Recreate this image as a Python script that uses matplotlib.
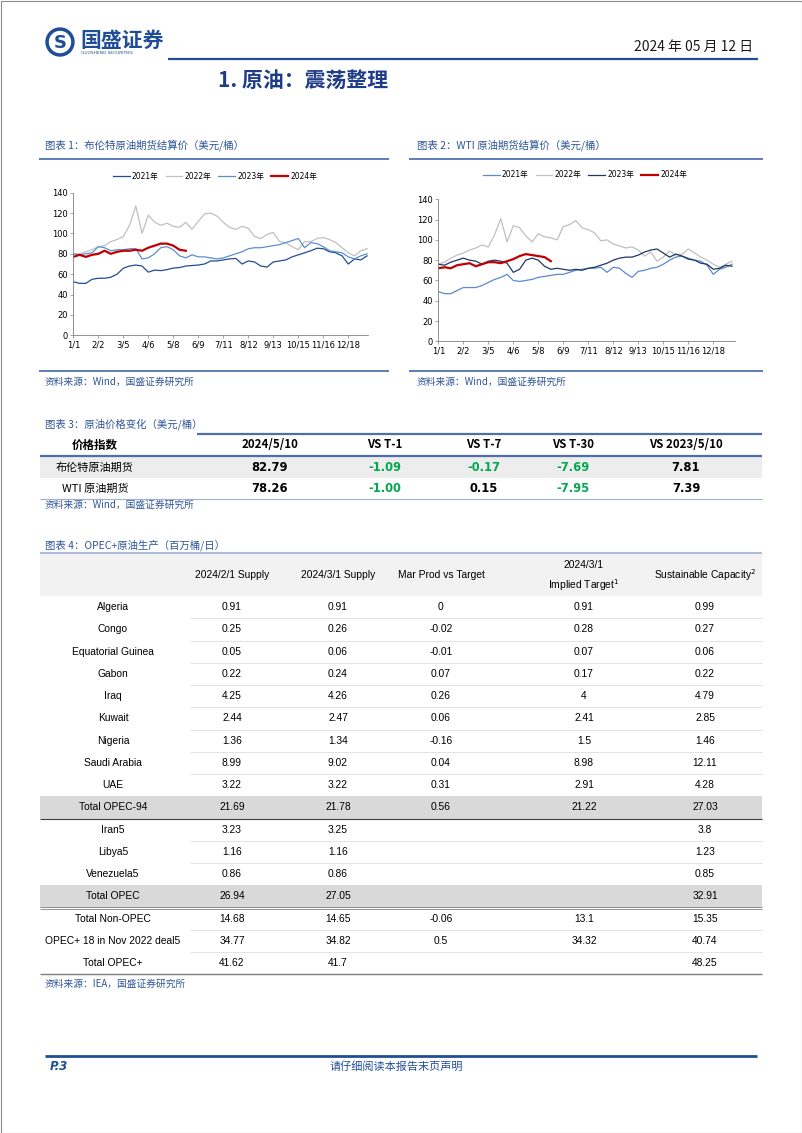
import numpy as np
import matplotlib.pyplot as plt
from matplotlib.patches import Rectangle, Circle

plt.rcParams['font.family'] = ['DejaVu Sans', 'Noto Sans CJK SC']
CJK = ['Noto Sans CJK SC', 'DejaVu Sans']
NARROW = ['Liberation Sans Narrow', 'Liberation Sans', 'Noto Sans CJK SC']

NAVY = '#1F4E96'
CAPBLUE = '#2F5597'
GREEN = '#00A84F'

# ---- chart data (weekly-ish reads, one value every 8 calendar slots) ----
date_labels = ['1/1', '2/2', '3/5', '4/6', '5/8', '6/9', '7/11', '8/12',
               '9/13', '10/15', '11/16', '12/18']
years = ['2021年', '2022年', '2023年', '2024年']

brent_2021 = [52.5, 51, 51, 55, 56, 56, 57, 60, 65.8, 68, 69, 68, 62, 64, 63.5, 64.5,
              66, 66.5, 68, 68.5, 69, 70, 73, 73, 74, 75, 75.5, 70, 73, 72, 68, 67,
              72, 73, 74, 77, 79, 81, 83, 85.5, 85, 82, 81, 78, 70, 75, 74, 78]
brent_2022 = [80, 80, 82, 84, 87, 88, 92, 94, 97, 108, 127, 100, 118, 111, 108, 110,
              107, 106, 111, 104, 112, 119, 120, 117, 111, 106, 104, 107, 105, 97, 95, 99,
              101, 92, 91, 87, 84, 92, 92, 95, 96, 94, 91, 86, 81, 78, 83, 85]
brent_2023 = [80, 79, 80, 81, 87, 86, 83, 84, 84, 85, 85, 75, 76, 80, 86, 87,
              84, 78, 76, 79, 77, 77, 76, 75, 76, 78, 80, 82, 85, 86, 86, 87,
              88, 89, 91, 93, 95, 86, 91, 90, 87, 83, 82, 81, 77, 75, 78, 80]
brent_2024 = [77, 79, 77, 79, 80, 83, 80, 82, 83, 83, 84, 83, 86, 88, 90, 90, 88, 84, 83]

wti_2021 = [49, 47, 47, 50, 53, 53, 53, 55, 58, 61, 63, 66, 60, 59, 60, 61,
            63, 64, 65, 66, 66, 68, 70, 71, 72, 72, 73, 68, 73, 72, 67, 63,
            69, 70, 72, 73, 76, 80, 83, 84, 82, 80, 79, 75, 66, 71, 73, 76]
wti_2022 = [76, 78, 82, 85, 87, 90, 92, 95, 93, 105, 121, 98, 114, 112, 104, 98,
            106, 103, 102, 100, 113, 115, 119, 112, 110, 107, 99, 100, 96, 94, 92, 93,
            90, 84, 88, 79, 83, 89, 85, 86, 91, 87, 83, 80, 76, 73, 76, 79]
wti_2023 = [76, 75, 78, 80, 82, 80, 79, 76, 79, 80, 79, 77, 68, 71, 80, 82,
            80, 74, 71, 72, 71, 70, 71, 70, 72, 73, 75, 77, 80, 82, 83, 83,
            85, 88, 90, 91, 87, 83, 86, 84, 81, 80, 77, 76, 71, 72, 75, 74]
wti_2024 = [72, 73, 72, 75, 76, 77, 74, 76, 78, 78, 77, 79, 81, 84, 86, 85, 84, 83, 79]

# ---- table 3 ----
t3_header = ['价格指数', '2024/5/10', 'VS T-1', 'VS T-7', 'VS T-30', 'VS 2023/5/10']
t3_names = ['布伦特原油期货', 'WTI 原油期货']
t3_values = [[82.79, -1.09, -0.17, -7.69, 7.81],
             [78.26, -1.00, 0.15, -7.95, 7.39]]

# ---- table 4 ----
t4_header = ['2024/2/1 Supply', '2024/3/1 Supply', 'Mar Prod vs Target',
             '2024/3/1\nImplied Target$^1$', 'Sustainable Capacity$^2$']
t4_rows = ['Algeria', 'Congo', 'Equatorial Guinea', 'Gabon', 'Iraq', 'Kuwait',
           'Nigeria', 'Saudi Arabia', 'UAE', 'Total OPEC-94', 'Iran5', 'Libya5',
           'Venezuela5', 'Total OPEC', 'Total Non-OPEC', 'OPEC+ 18 in Nov 2022 deal5',
           'Total OPEC+']
supply_feb = [0.91, 0.25, 0.05, 0.22, 4.25, 2.44, 1.36, 8.99, 3.22, 21.69, 3.23, 1.16,
              0.86, 26.94, 14.68, 34.77, 41.62]
supply_mar = [0.91, 0.26, 0.06, 0.24, 4.26, 2.47, 1.34, 9.02, 3.22, 21.78, 3.25, 1.16,
              0.86, 27.05, 14.65, 34.82, 41.7]
prod_vs_target = [0, -0.02, -0.01, 0.07, 0.26, 0.06, -0.16, 0.04, 0.31, 0.56, None, None,
                  None, None, -0.06, 0.5, None]
implied_target = [0.91, 0.28, 0.07, 0.17, 4, 2.41, 1.5, 8.98, 2.91, 21.22, None, None,
                  None, None, 13.1, 34.32, None]
capacity = [0.99, 0.27, 0.06, 0.22, 4.79, 2.85, 1.46, 12.11, 4.28, 27.03, 3.8, 1.23,
            0.85, 32.91, 15.35, 40.74, 48.25]
shaded_rows = ['Total OPEC-94', 'Total OPEC']

STEP = 8
TICK_EVERY = 32

fig = plt.figure(figsize=(8.02, 11.33), dpi=100)
page = fig.add_axes([0, 0, 1, 1])
page.set_xlim(0, 802)
page.set_ylim(1133, 0)
page.axis('off')


def put(x, y, s, size, ha='center', va='center', color='black', weight='normal',
        family=None, style='normal'):
    page.text(x, y, s, fontsize=size, ha=ha, va=va, color=color, fontweight=weight,
              family=family if family else CJK, style=style)


def hline(x0, x1, y, color, lw):
    page.plot([x0, x1], [y, y], color=color, lw=lw, solid_capstyle='butt')


# page frame
page.add_patch(Rectangle((0.5, 0.5), 801, 1132, fill=False, ec='#8C8C8C', lw=0.8))

# header
page.add_patch(Circle((60, 42), 14, color=NAVY))
page.add_patch(Circle((60, 42), 10.5, color='white'))
put(60, 42.5, 'S', 13, color=NAVY, weight='bold', family=['DejaVu Sans'])
put(80, 40, '国盛证券', 15, ha='left', color=NAVY, weight='bold')
put(81, 52.5, 'GUOSHENG SECURITIES', 3.2, ha='left', color=NAVY, family=['DejaVu Sans'])
put(753, 47, '2024 年 05 月 12 日', 10, ha='right', color='#1A1A1A')
hline(168, 758, 59, NAVY, 1.6)
put(218, 81, '1. 原油：震荡整理', 15, ha='left', color='#1F3C88', weight='bold')

# chart captions
put(45, 145, '图表 1：布伦特原油期货结算价（美元/桶）', 7.5, ha='left', color=CAPBLUE)
put(417, 145, '图表 2：WTI 原油期货结算价（美元/桶）', 7.5, ha='left', color=CAPBLUE)
hline(39, 389, 158.5, '#5B7DB8', 1.4)
hline(409, 763, 158.5, '#5B7DB8', 1.4)
hline(39, 389, 371, '#5B7DB8', 1.4)
hline(409, 763, 371, '#5B7DB8', 1.4)
put(45, 382, '资料来源：Wind，国盛证券研究所', 7, ha='left', color=CAPBLUE)
put(417, 382, '资料来源：Wind，国盛证券研究所', 7, ha='left', color=CAPBLUE)


def draw_chart(rect, series, colors, widths, legend_xy):
    x0, y0, x1, y1 = rect
    ax = fig.add_axes([x0 / 802, 1 - y1 / 1133, (x1 - x0) / 802, (y1 - y0) / 1133])
    ax.set_facecolor('none')
    for vals, c, lw, lab in zip(series, colors, widths, years):
        ax.plot(np.arange(len(vals)) * STEP, vals, color=c, lw=lw, label=lab)
    ax.set_xlim(0, (x1 - x0) / 25 * TICK_EVERY)
    ax.set_ylim(0, 140)
    ax.set_yticks(range(0, 141, 20))
    ax.set_xticks(np.arange(len(date_labels)) * TICK_EVERY)
    ax.set_xticklabels(date_labels)
    for s in ['top', 'right']:
        ax.spines[s].set_visible(False)
    for s in ['left', 'bottom']:
        ax.spines[s].set_color('#808080')
        ax.spines[s].set_linewidth(0.6)
    ax.tick_params(labelsize=6, length=2.2, width=0.5, color='#808080', pad=1.5)
    ax.legend(loc='center', bbox_to_anchor=legend_xy, bbox_transform=page.transData,
              ncol=4, frameon=False, fontsize=5.5, handlelength=2.2, handletextpad=0.3,
              columnspacing=0.9, borderpad=0)
    return ax


draw_chart((73.3, 192.7, 368, 335.3), [brent_2021, brent_2022, brent_2023, brent_2024],
           ['#1F4E96', '#C0C0C0', '#5B8ED0', '#C00000'], [0.9, 0.9, 0.9, 1.6], (215, 176))
draw_chart((438.3, 199.3, 735, 341.3), [wti_2021, wti_2022, wti_2023, wti_2024],
           ['#5B8BC9', '#C0C0C0', '#1F3864', '#C00000'], [0.9, 0.9, 0.9, 1.6], (585, 175))

# ---- table 3 ----
put(45, 424, '图表 3：原油价格变化（美元/桶）', 7.5, ha='left', color=CAPBLUE)
t3_x = [95, 270, 385, 484, 573, 686]
page.add_patch(Rectangle((40, 457), 722, 21, color='#EDEDED', lw=0))
hline(197, 762, 433.5, '#4F6FA8', 1.6)
hline(40, 762, 456, '#4F6FA8', 1.6)
hline(40, 762, 498.5, '#9DB0D3', 0.8)
for x, h in zip(t3_x, t3_header):
    put(x, 445, h, 8.3, weight='bold')
for r, (name, vals) in enumerate(zip(t3_names, t3_values)):
    y = 467.5 + r * 21
    put(t3_x[0], y, name, 8)
    for i, v in enumerate(vals):
        col = GREEN if (i > 0 and v < 0) else 'black'
        put(t3_x[i + 1], y, f'{v:.2f}', 8.3, weight='bold', color=col, family=['DejaVu Sans'])
put(45, 505, '资料来源：Wind，国盛证券研究所', 7, ha='left', color=CAPBLUE)

# ---- table 4 ----
put(45, 545, '图表 4：OPEC+原油生产（百万桶/日）', 7.5, ha='left', color=CAPBLUE)
row_h = 22.25
top = 596
page.add_patch(Rectangle((40, 553), 722, top - 553, color='#F2F2F2', lw=0))
hline(40, 762, 553, '#9DB0D3', 1.2)
t4_x = [113, 232, 338, 441, 584, 705]
for x, h in zip(t4_x[1:], t4_header):
    if '\n' in h:
        a, b = h.split('\n')
        put(x, 565, a, 7.4, family=NARROW)
        put(x, 585, b, 7.4, family=NARROW)
    else:
        put(x, 575, h, 7.4, family=NARROW)

cols = [supply_feb, supply_mar, prod_vs_target, implied_target, capacity]
for r, name in enumerate(t4_rows):
    yc = top + (r + 0.5) * row_h
    if name in shaded_rows:
        page.add_patch(Rectangle((40, top + r * row_h), 722, row_h, color='#D9D9D9', lw=0))
    elif r > 0 and t4_rows[r - 1] not in shaded_rows:
        hline(190, 762, top + r * row_h, '#E3E3E3', 0.7)
    put(t4_x[0], yc, name, 7.4, family=NARROW)
    for c, vals in enumerate(cols):
        v = vals[r]
        if v is not None:
            put(t4_x[c + 1], yc, f'{v:g}', 7.4, family=NARROW)
ix = t4_rows.index('Total OPEC-94')
hline(40, 762, top + (ix + 1) * row_h, '#404040', 0.8)
ix = t4_rows.index('Total OPEC')
hline(40, 762, top + (ix + 1) * row_h - 0.8, '#808080', 0.6)
hline(40, 762, top + (ix + 1) * row_h + 1.2, '#808080', 0.6)
hline(40, 762, top + len(t4_rows) * row_h, '#7F7F7F', 1.0)
put(45, 984, '资料来源：IEA，国盛证券研究所', 7, ha='left', color=CAPBLUE)

# footer
hline(45, 757, 1055.5, NAVY, 2.0)
put(50, 1066.5, 'P.3', 8.5, ha='left', color=NAVY, weight='bold', style='italic',
    family=['DejaVu Sans'])
put(396, 1066.5, '请仔细阅读本报告末页声明', 8, color=NAVY)

fig.savefig('out.png', dpi=100)
